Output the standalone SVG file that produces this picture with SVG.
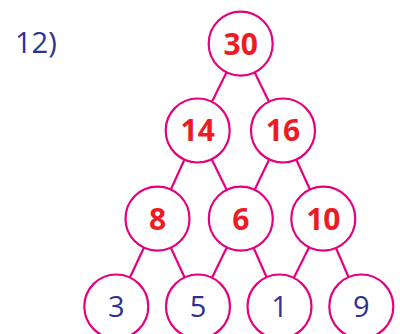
<svg xmlns="http://www.w3.org/2000/svg" width="400" height="334" viewBox="0 0 400 334">
<style>
.c{fill:#fff;stroke:#e5007e;stroke-width:2.2}
.e line{stroke:#e5007e;stroke-width:2.2}
.r{font-family:"Open Sans","Liberation Sans",sans-serif;font-weight:bold;font-size:30px;fill:#ed1c24;text-anchor:middle}
.b{font-family:"Open Sans","Liberation Sans",sans-serif;font-size:29px;fill:#2e3192;text-anchor:middle}
</style>
<rect width="400" height="334" fill="#fff"/>
<text x="15" y="52.5" style="font-family:'Open Sans','Liberation Sans',sans-serif;font-size:29px;fill:#2e3192">12)</text>
<g class="e" id="connectors">
<line x1="240.7" y1="43.7" x2="197.7" y2="130.5"/>
<line x1="240.7" y1="43.7" x2="283" y2="130.5"/>
<line x1="197.7" y1="130.5" x2="157.5" y2="218.7"/>
<line x1="197.7" y1="130.5" x2="240.8" y2="218.7"/>
<line x1="283" y1="130.5" x2="240.8" y2="218.7"/>
<line x1="283" y1="130.5" x2="323.3" y2="218.7"/>
<line x1="157.5" y1="218.7" x2="116.3" y2="306.5"/>
<line x1="157.5" y1="218.7" x2="198" y2="306.5"/>
<line x1="240.8" y1="218.7" x2="198" y2="306.5"/>
<line x1="240.8" y1="218.7" x2="279.5" y2="306.5"/>
<line x1="323.3" y1="218.7" x2="279.5" y2="306.5"/>
<line x1="323.3" y1="218.7" x2="361.3" y2="306.5"/>
</g>
<g id="n30"><circle class="c" cx="240.7" cy="43.7" r="32"/><text class="r" x="240.7" y="54.5">30</text></g>
<g id="n14"><circle class="c" cx="197.7" cy="130.5" r="32"/><text class="r" x="197.7" y="141.3">14</text></g>
<g id="n16"><circle class="c" cx="283" cy="130.5" r="32"/><text class="r" x="283" y="141.3">16</text></g>
<g id="n8"><circle class="c" cx="157.5" cy="218.7" r="32"/><text class="r" x="157.5" y="229.5">8</text></g>
<g id="n6"><circle class="c" cx="240.8" cy="218.7" r="32"/><text class="r" x="240.8" y="229.5">6</text></g>
<g id="n10"><circle class="c" cx="323.3" cy="218.7" r="32"/><text class="r" x="323.3" y="229.5">10</text></g>
<g id="n3"><circle class="c" cx="116.3" cy="306.5" r="32"/><text class="b" x="116.3" y="317.3">3</text></g>
<g id="n5"><circle class="c" cx="198" cy="306.5" r="32"/><text class="b" x="198" y="317.3">5</text></g>
<g id="n1"><circle class="c" cx="279.5" cy="306.5" r="32"/><text class="b" x="279.5" y="317.3">1</text></g>
<g id="n9"><circle class="c" cx="361.3" cy="306.5" r="32"/><text class="b" x="361.3" y="317.3">9</text></g>
</svg>
